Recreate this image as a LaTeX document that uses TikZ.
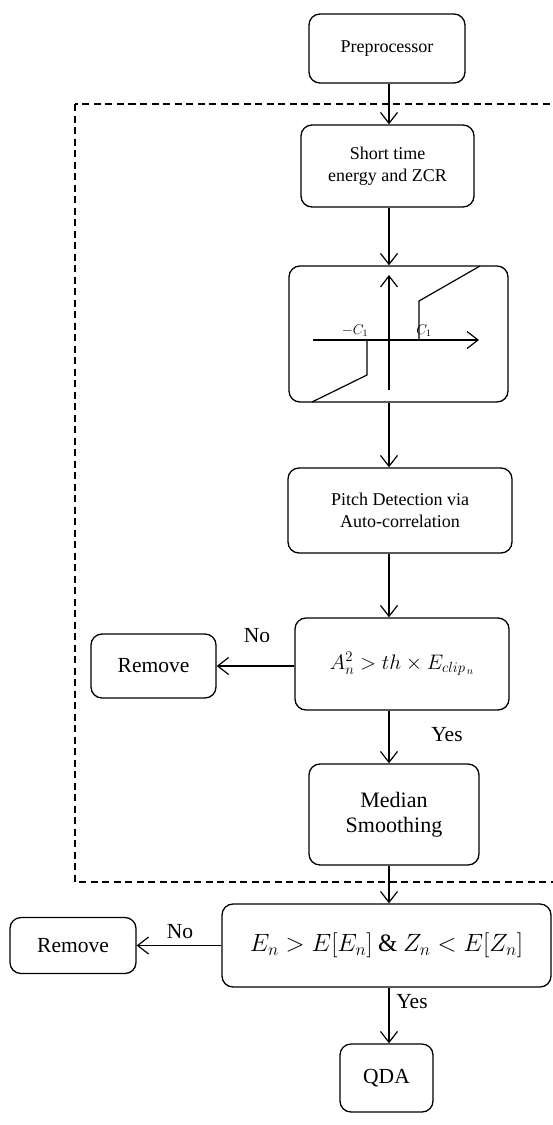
\RequirePackage{fix-cm}
\documentclass[tikz,border=0pt]{standalone}
\usepackage{fontspec}
\setmainfont{Liberation Serif}
\usetikzlibrary{arrows.meta}
\begin{document}
\begin{tikzpicture}[x=1pt,y=-1pt,
  box/.style={draw,line width=1.3pt,rounded corners=11pt,align=center,inner sep=0pt},
  arr/.style={line width=1.2pt,-{Straight Barb[length=11pt,width=17pt,line width=1.2pt]}},
  lbl/.style={font=\fontsize{21.5}{23}\selectfont}]
\useasboundingbox (0,0) rectangle (553,1125);
\draw[line width=1.3pt,dash pattern=on 7pt off 4.5pt] (75,104) rectangle (575,882);
\coordinate (ax) at (389,0);
\node[box,minimum width=156pt,minimum height=69pt,font=\fontsize{18}{20}\selectfont] (pre) at (387,48.5) {Preprocessor};
\node[box,minimum width=173pt,minimum height=82pt,font=\fontsize{18}{22}\selectfont] (ste) at (387.5,166) {Short time\\energy and ZCR};
\node[box,minimum width=219pt,minimum height=136pt] (clip) at (398.5,334) {};
\node[box,minimum width=224pt,minimum height=85pt,font=\fontsize{18}{22}\selectfont] (pitch) at (400,510.5) {Pitch Detection via\\Auto-correlation};
\node[box,minimum width=214pt,minimum height=92pt,font=\fontsize{21}{23}\selectfont] (c1) at (402,664) {$A_n^2 > th \times E_{clip_{\,n}}$};
\node[box,minimum width=125pt,minimum height=64pt,lbl] (r1) at (153.5,666) {Remove};
\node[box,minimum width=170pt,minimum height=101pt,font=\fontsize{22}{25}\selectfont] (med) at (394,814.5) {Median\\Smoothing};
\node[box,minimum width=329pt,minimum height=83pt,font=\fontsize{25}{27}\selectfont] (c2) at (386.5,945.5) {$E_n > E[E_n]\mathbin{\&} Z_n < E[Z_n]$};
\node[box,minimum width=126pt,minimum height=56pt,lbl] (r2) at (73,945.5) {Remove};
\node[box,minimum width=93pt,minimum height=68pt,lbl] (qda) at (386.5,1078) {QDA};
% clipping characteristic
\coordinate (vb) at (389,390); \coordinate (vt) at (389,275);
\coordinate (hl) at (313,340); \coordinate (hr) at (479,340);
\draw[arr] (vb) -- (vt);
\draw[arr] (hl) -- (hr);
\draw[line width=1.2pt] (419,340) -- (419,301) -- (480,266);
\draw[line width=1.2pt] (367,340) -- (367,375) -- (312,402);
\node[font=\fontsize{14}{15}\selectfont] (mc) at (355,331) {$-C_1$};
\node[font=\fontsize{14}{15}\selectfont] (pc) at (424,331) {$C_1$};
% connectors
\draw[arr] (pre.south -| ax) -- (ste.north -| ax);
\draw[arr] (ste.south -| ax) -- (clip.north -| ax);
\draw[arr] (clip.south -| ax) -- (pitch.north -| ax);
\draw[arr] (pitch.south -| ax) -- (c1.north -| ax);
\draw[arr] (c1.south -| ax) -- (med.north -| ax);
\draw[arr] (med.south -| ax) -- (c2.north -| ax);
\draw[arr] (c2.south -| ax) -- (qda.north -| ax);
\draw[arr] (c1.west |- r1.east) -- (r1.east);
\draw[arr] (c2.west) -- (r2.east);
\node[lbl] (no1) at (257,636) {No};
\node[lbl] (no2) at (180,932) {No};
\node[lbl] (yes1) at (447,735) {Yes};
\node[lbl] (yes2) at (412,1002) {Yes};
\end{tikzpicture}
\end{document}
